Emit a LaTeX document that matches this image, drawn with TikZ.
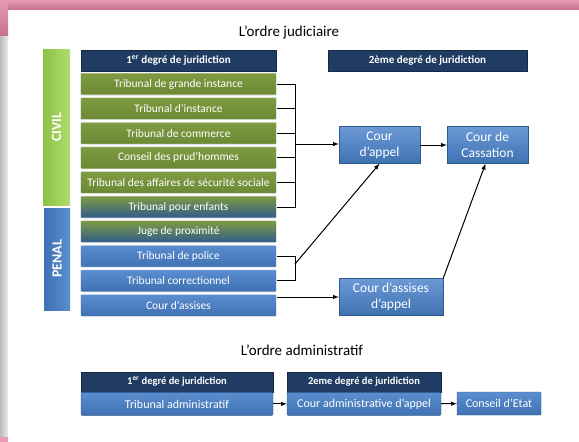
\documentclass[tikz,border=0pt]{standalone}
\usepackage{fontspec}
\setmainfont{Carlito}
\usetikzlibrary{positioning}
\usetikzlibrary{calc}
\usetikzlibrary{arrows}
\definecolor{navy}{HTML}{203C62}
\definecolor{olivetop}{HTML}{7E9C42}
\definecolor{olivebot}{HTML}{6C8834}
\definecolor{steeltop}{HTML}{5A8ED0}
\definecolor{steelbot}{HTML}{3F71B2}
\definecolor{steeldark}{HTML}{2F5A8C}
\definecolor{civilgreen}{HTML}{8CC244}
\definecolor{civillight}{HTML}{B2DC6E}
\definecolor{pinktop}{HTML}{E79AB6}
\definecolor{pinkbot}{HTML}{C8728F}
\tikzset{>=latex}
\tikzset{header/.style={rectangle, fill=navy, draw=navy!70!black, text=white, font=\bfseries\fontsize{11}{13}\selectfont, minimum height=21pt, inner sep=0pt}}
\tikzset{court/.style={rectangle, rounded corners=1pt, draw=white!80!gray, line width=0.6pt, text=white, minimum width=196pt, minimum height=22pt, inner sep=0pt, font=\fontsize{11.5}{13}\selectfont}}
\tikzset{civilrow/.style={court, top color=olivetop, bottom color=olivebot}}
\tikzset{mixrow/.style={court, top color=olivetop, bottom color=steeldark}}
\tikzset{penalrow/.style={court, top color=steeltop, bottom color=steelbot}}
\tikzset{appeal/.style={rectangle, draw=steeldark, top color=steeltop!90!white, bottom color=steelbot, text=white, align=center, inner sep=0pt, font=\fontsize{13.5}{16}\selectfont}}
\tikzset{admin/.style={rectangle, rounded corners=1pt, draw=steeldark, top color=steeltop, bottom color=steelbot, text=white, minimum height=23pt, inner sep=0pt, font=\fontsize{12}{14}\selectfont}}
\tikzset{side/.style={rectangle, rotate=90, text=white, font=\bfseries\fontsize{14}{16}\selectfont, inner sep=0pt}}
\tikzset{link/.style={black, line width=1pt}}
\tikzset{title/.style={font=\fontsize{15}{18}\selectfont}}

\begin{document}
\begin{tikzpicture}[x=1pt,y=-1pt]

    % Frame
    \useasboundingbox (0,0) rectangle (579,442);
    \fill[white] (0,0) rectangle (579,442);
    \shade[top color=pinktop, bottom color=pinkbot] (0,0) rectangle (579,9);
    \shade[top color=pinktop, bottom color=pinkbot] (0,0) rectangle (8,36);
    \shade[left color=gray!55, right color=gray!15] (0,36) rectangle (8,437);
    \fill[pinktop] (0,437) rectangle (8,442);

    % Titles
    \node [title] (judtitle) at (289,32) {L’ordre judiciaire};
    \node [title] (admtitle) at (302,350) {L’ordre administratif};

    % Side bars
    \node [side, minimum width=156pt, minimum height=27pt, left color=civilgreen, right color=civillight] (civil) at (56.5,127) {CIVIL};
    \node [side, minimum width=102pt, minimum height=26pt, left color=steelbot, right color=steeltop] (penal) at (57,259) {PENAL};

    % Headers
    \node [header, minimum width=195pt] (deg1) at (178.5,61) {1\textsuperscript{er} degré de juridiction};
    \node [header, minimum width=199pt] (deg2) at (427.5,61) {2ème degré de juridiction};

    % First degree courts
    \node [civilrow] (tgi) at (178.5,84) {Tribunal de grande instance};
    \node [civilrow, below=2pt of tgi] (ti) {Tribunal d’instance};
    \node [civilrow, below=2pt of ti] (tcom) {Tribunal de commerce};
    \node [civilrow, below=2pt of tcom] (prud) {Conseil des prud’hommes};
    \node [civilrow, below=2pt of prud] (tass) {Tribunal des affaires de sécurité sociale};
    \node [mixrow, below=2pt of tass] (tpe) {Tribunal pour enfants};
    \node [mixrow, below=2pt of tpe] (juge) {Juge de proximité};
    \node [penalrow, below=2pt of juge] (police) {Tribunal de police};
    \node [penalrow, below=2pt of police] (correc) {Tribunal correctionnel};
    \node [penalrow, below=2pt of correc] (assises) {Cour d’assises};

    % Second degree courts
    \node [appeal, minimum width=81pt, minimum height=37pt] (appel) at (379.5,145) {Cour\\d’appel};
    \node [appeal, minimum width=81pt, minimum height=37pt] (cassation) at (487.5,145) {Cour de\\Cassation};
    \node [appeal, minimum width=104pt, minimum height=37pt] (assappel) at (391,297) {Cour d’assises\\d’appel};

    % Brackets
    \coordinate (civiljoin) at (295,144);
    \coordinate (penaljoin) at (295,264);
    \draw [link] (tgi.east) -| (civiljoin);
    \draw [link] (ti.east) -| (civiljoin);
    \draw [link] (tcom.east) -| (civiljoin);
    \draw [link] (prud.east) -| (civiljoin);
    \draw [link] (tass.east) -| (civiljoin);
    \draw [link] (tpe.east) -| (civiljoin);
    \draw [link] (police.east) -| (penaljoin);
    \draw [link] (correc.east) -| (penaljoin);

    % Arrows between nodes
    \draw [link,->] (civiljoin) -- (appel.west |- civiljoin);
    \draw [link,->] (appel) -- (cassation);
    \draw [link,->] (penaljoin) -- (appel.south);
    \draw [link,->] (assises.east |- assappel.west) -- (assappel.west);
    \draw [link,->] (assappel.north east) -- ($(cassation.south)+(-2,0)$);

    % Administrative order
    \node [header, minimum width=192pt, minimum height=20pt, font=\bfseries\fontsize{10.5}{12}\selectfont] (admdeg1) at (177,382) {1\textsuperscript{er} degré de juridiction};
    \node [header, minimum width=154pt, minimum height=20pt, font=\bfseries\fontsize{10.5}{12}\selectfont] (admdeg2) at (364,382) {2eme degré de juridiction};
    \node [admin, minimum width=192pt, below=0pt of admdeg1] (tadm) {Tribunal administratif};
    \node [admin, minimum width=154pt, below=0pt of admdeg2] (caa) {Cour administrative d’appel};
    \node [admin, minimum width=84pt] (ce) at (499,403.5) {Conseil d’Etat};
    \draw [link,->] (tadm) -- (caa);
    \draw [link,->] (caa) -- (ce);

\end{tikzpicture}
\end{document}
